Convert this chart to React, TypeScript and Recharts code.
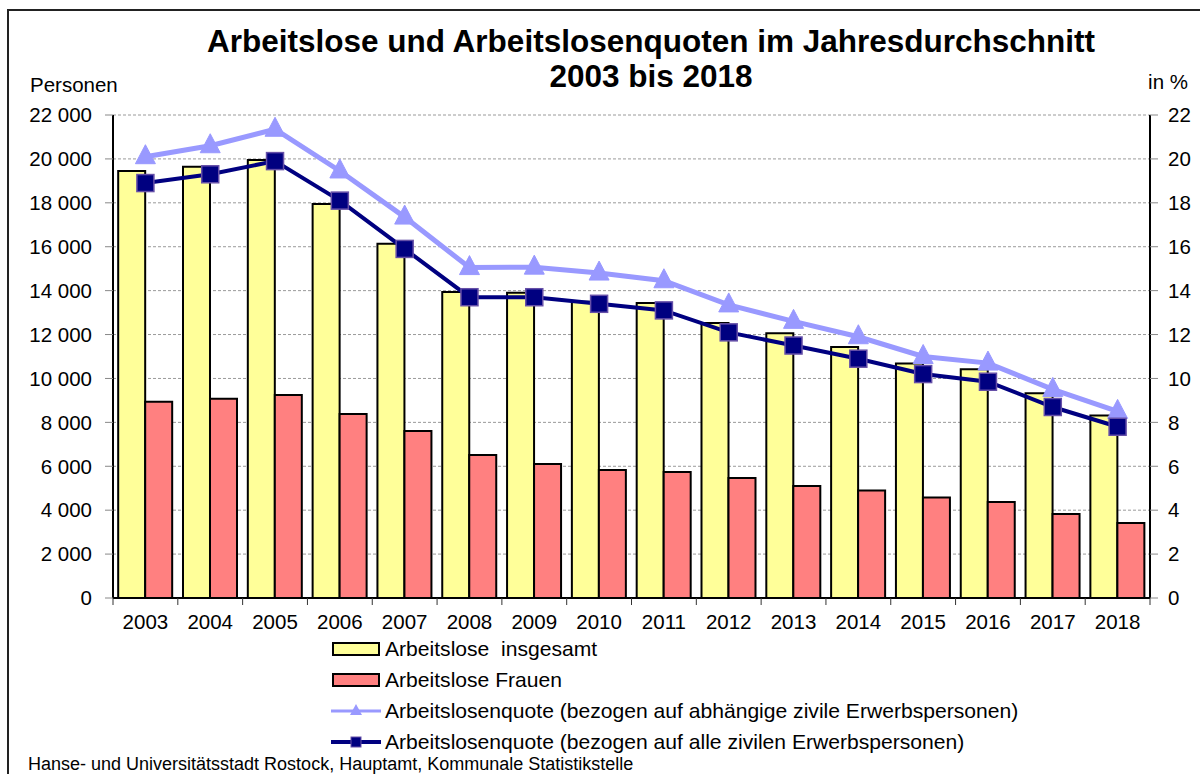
import React from "react";
import {
  ComposedChart,
  Bar,
  Line,
  XAxis,
  YAxis,
  CartesianGrid,
} from "recharts";

const years = [
  "2003", "2004", "2005", "2006", "2007", "2008", "2009", "2010",
  "2011", "2012", "2013", "2014", "2015", "2016", "2017", "2018",
];
const arbeitsloseInsgesamt = [
  19450, 19640, 19950, 17950, 16130, 13940, 13900, 13490,
  13440, 12530, 12060, 11435, 10680, 10420, 9330, 8310,
];
const arbeitsloseFrauen = [
  8940, 9070, 9250, 8380, 7610, 6515, 6100, 5830,
  5740, 5470, 5100, 4900, 4580, 4370, 3830, 3420,
];
const quoteAbhaengig = [
  20.1, 20.6, 21.35, 19.45, 17.35, 15.05, 15.07, 14.8,
  14.45, 13.35, 12.6, 11.9, 11.0, 10.7, 9.5, 8.5,
];
const quoteAlle = [
  18.9, 19.3, 19.9, 18.1, 15.9, 13.7, 13.7, 13.4,
  13.1, 12.1, 11.5, 10.9, 10.2, 9.85, 8.7, 7.8,
];
const leftTicks = [0, 2000, 4000, 6000, 8000, 10000, 12000, 14000, 16000, 18000, 20000, 22000];
const rightTicks = [0, 2, 4, 6, 8, 10, 12, 14, 16, 18, 20, 22];

const legendLabels = [
  "Arbeitslose  insgesamt",
  "Arbeitslose Frauen",
  "Arbeitslosenquote (bezogen auf abhängige zivile Erwerbspersonen)",
  "Arbeitslosenquote (bezogen auf alle zivilen Erwerbspersonen)",
];

const data = years.map((y, i) => ({
  year: y,
  total: arbeitsloseInsgesamt[i],
  women: arbeitsloseFrauen[i],
  qDep: quoteAbhaengig[i],
  qAll: quoteAlle[i],
}));

const YELLOW = "#FFFF99";
const RED = "#FF8080";
const LIGHT = "#9999FF";
const NAVY = "#000080";
const FONT = "'Liberation Sans', Arial, sans-serif";

const CHART_W = 1200;
const CHART_H = 774;
const LEFT_W = 113;
const RIGHT_W = 50;
const PLOT_W = CHART_W - LEFT_W - RIGHT_W;

const fmt = (v: number) => {
  const s = String(v);
  if (s.length <= 3) return s;
  return s.slice(0, s.length - 3) + " " + s.slice(s.length - 3);
};

const XTick = (props: any) => {
  const { x, y, payload, index } = props;
  const bw = PLOT_W / years.length;
  const isLast = index === years.length - 1;
  return (
    <g>
      <line x1={x - bw / 2} y1={y} x2={x - bw / 2} y2={y + 7} stroke="#333" strokeWidth={1} />
      {isLast && <line x1={x + bw / 2} y1={y} x2={x + bw / 2} y2={y + 7} stroke="#333" strokeWidth={1} />}
      <text x={x} y={y + 31} textAnchor="middle" fontSize={20.5} fontFamily={FONT} fill="#000">
        {payload.value}
      </text>
    </g>
  );
};

const SquareDot = (props: any) => {
  const { cx, cy, index } = props;
  if (cx == null || cy == null) return null;
  return (
    <rect key={"sq" + index} x={cx - 8.5} y={cy - 8.5} width={17} height={17} fill={NAVY} stroke="#6650A8" strokeWidth={1.5} />
  );
};

const TriDot = (props: any) => {
  const { cx, cy, index } = props;
  if (cx == null || cy == null) return null;
  const pts = `${cx},${cy - 12} ${cx - 10},${cy + 7} ${cx + 10},${cy + 7}`;
  return <polygon key={"tr" + index} points={pts} fill={LIGHT} stroke={LIGHT} strokeWidth={1} />;
};

const LegendIcon = ({ kind }: { kind: number }) => {
  if (kind === 0 || kind === 1) {
    return (
      <svg width={50} height={18} style={{ display: "block" }}>
        <rect x={2} y={3} width={46} height={12} fill={kind === 0 ? YELLOW : RED} stroke="#000" strokeWidth={2} />
      </svg>
    );
  }
  const color = kind === 2 ? LIGHT : NAVY;
  return (
    <svg width={50} height={18} style={{ display: "block" }}>
      <line x1={0} y1={9} x2={50} y2={9} stroke={color} strokeWidth={kind === 2 ? 3 : 4} />
      {kind === 2 ? (
        <polygon points="25,2 19,13 31,13" fill={LIGHT} />
      ) : (
        <rect x={20} y={4} width={10} height={10} fill={NAVY} stroke="#6650A8" strokeWidth={1} />
      )}
    </svg>
  );
};

export default function App() {
  return (
    <div
      style={{
        position: "absolute",
        left: 0,
        top: 0,
        width: CHART_W,
        height: CHART_H,
        overflow: "hidden",
        background: "#fff",
        fontFamily: FONT,
        color: "#000",
      }}
    >
      <div
        style={{
          position: "absolute",
          left: 7,
          top: 9,
          width: 1400,
          height: 1000,
          border: "2px solid #222",
          boxSizing: "border-box",
        }}
      />
      <div
        style={{
          position: "absolute",
          left: 0,
          width: 1302,
          top: 24,
          textAlign: "center",
          fontWeight: "bold",
          fontSize: 31.5,
          lineHeight: "35px",
        }}
      >
        Arbeitslose und Arbeitslosenquoten im Jahresdurchschnitt
        <br />
        2003 bis 2018
      </div>
      <div style={{ position: "absolute", left: 30, top: 73, fontSize: 20.5, lineHeight: "24px" }}>Personen</div>
      <div style={{ position: "absolute", right: 12, top: 70, fontSize: 20.5, lineHeight: "24px" }}>in %</div>

      <div style={{ position: "absolute", left: 0, top: 0 }}>
        <ComposedChart
          width={CHART_W}
          height={CHART_H}
          data={data}
          margin={{ top: 115, right: 0, bottom: 116, left: 0 }}
          barCategoryGap="8%"
          barGap={0}
        >
          <CartesianGrid vertical={false} stroke="#9a9a9a" strokeDasharray="3 2" yAxisId="left" />
          <XAxis
            dataKey="year"
            height={60}
            tick={<XTick />}
            tickLine={false}
            tickSize={0}
            tickMargin={0}
            axisLine={{ stroke: "#000", strokeWidth: 2 }}
            interval={0}
          />
          <YAxis
            yAxisId="left"
            orientation="left"
            width={LEFT_W}
            domain={[0, 22000]}
            ticks={leftTicks}
            tickFormatter={fmt}
            tickSize={8}
            tickMargin={13}
            axisLine={{ stroke: "#000", strokeWidth: 2 }}
            tickLine={{ stroke: "#888", strokeWidth: 1 }}
            tick={{ fill: "#000", fontSize: 20.5, fontFamily: FONT }}
            interval={0}
          />
          <YAxis
            yAxisId="right"
            orientation="right"
            width={RIGHT_W}
            domain={[0, 22]}
            ticks={rightTicks}
            tickSize={8}
            tickMargin={10}
            axisLine={{ stroke: "#000", strokeWidth: 2 }}
            tickLine={{ stroke: "#888", strokeWidth: 1 }}
            tick={{ fill: "#000", fontSize: 20.5, fontFamily: FONT }}
            interval={0}
          />
          <Bar yAxisId="left" dataKey="total" fill={YELLOW} stroke="#000" strokeWidth={2} isAnimationActive={false} />
          <Bar yAxisId="left" dataKey="women" fill={RED} stroke="#000" strokeWidth={2} isAnimationActive={false} />
          <Line
            yAxisId="right"
            dataKey="qDep"
            stroke={LIGHT}
            strokeWidth={5}
            dot={<TriDot />}
            activeDot={false}
            isAnimationActive={false}
          />
          <Line
            yAxisId="right"
            dataKey="qAll"
            stroke={NAVY}
            strokeWidth={4}
            dot={<SquareDot />}
            activeDot={false}
            isAnimationActive={false}
          />
        </ComposedChart>
      </div>

      {legendLabels.map((label, i) => (
        <div
          key={label}
          style={{
            position: "absolute",
            left: 331,
            top: 637 + i * 31,
            height: 24,
            display: "flex",
            alignItems: "center",
            fontSize: 21.1,
            lineHeight: "24px",
            whiteSpace: "pre",
          }}
        >
          <LegendIcon kind={i} />
          <span style={{ marginLeft: 4 }}>{label}</span>
        </div>
      ))}

      <div
        style={{
          position: "absolute",
          left: 28,
          top: 754,
          fontSize: 18,
          lineHeight: "20px",
          whiteSpace: "nowrap",
        }}
      >
        Hanse- und Universitätsstadt Rostock, Hauptamt, Kommunale Statistikstelle
      </div>
    </div>
  );
}
